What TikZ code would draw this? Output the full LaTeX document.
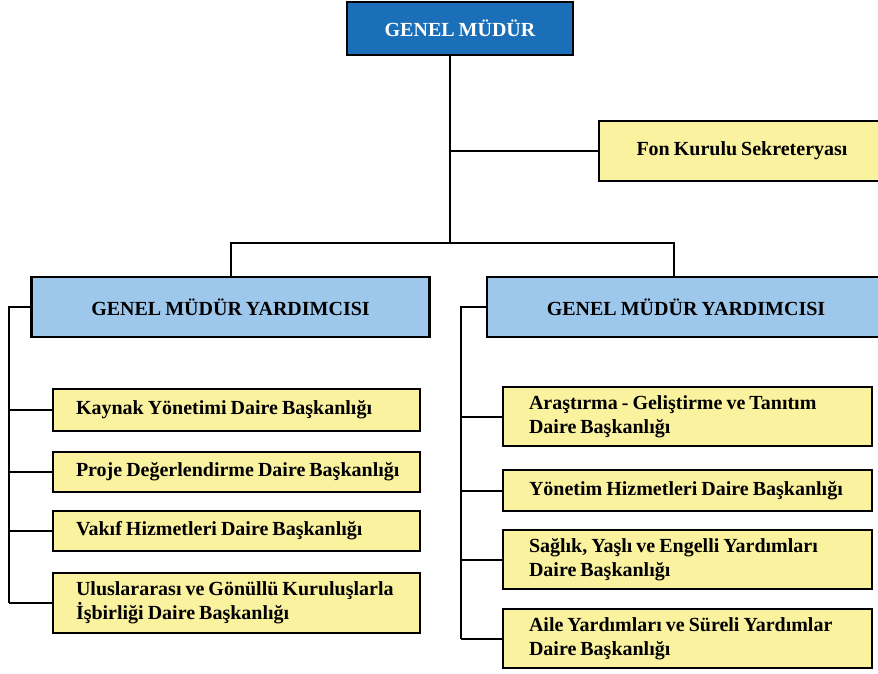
\documentclass[tikz,border=0pt]{standalone}
\usepackage{fontspec}
\setmainfont{Liberation Serif}[WordSpace=0.8]
\usetikzlibrary{positioning}
\definecolor{headblue}{RGB}{27,110,184}
\definecolor{deputyblue}{RGB}{158,200,235}
\definecolor{unityellow}{RGB}{250,242,158}
\begin{document}
\begin{tikzpicture}[x=1pt,y=-1pt,
    box/.style={draw=black, line width=2.5pt, inner sep=0pt, font=\bfseries\fontsize{20}{24}\selectfont},
    headbox/.style={box, fill=headblue, text=white, minimum width=226pt, minimum height=53pt},
    deputybox/.style={box, fill=deputyblue, minimum width=398pt, minimum height=60pt},
    unitbox/.style={box, fill=unityellow, align=left, inner xsep=23pt, text width=321pt,
      execute at begin node={\spaceskip=0pt\xspaceskip=0pt\relax}},
    link/.style={draw=black, line width=2pt}]
  \useasboundingbox (0,0) rectangle (878,673);
  \clip (0,0) rectangle (878,673);
  \node [headbox] (gm) at (460,28.5) {GENEL MÜDÜR};
  \node [box, fill=unityellow, minimum width=286pt, minimum height=60pt] (fks) at (742,151) {Fon Kurulu Sekreteryası};
  \node [deputybox] (gmyL) at (230.5,307) {GENEL MÜDÜR YARDIMCISI};
  \node [deputybox] (gmyR) at (686,307) {GENEL MÜDÜR YARDIMCISI};
  \node [unitbox, minimum height=42pt] (kaynak) at (236.5,410) {\mbox{Kaynak Yönetimi Daire Başkanlığı}};
  \node [unitbox, minimum height=40pt] (proje) at (236.5,472) {\mbox{Proje Değerlendirme Daire Başkanlığı}};
  \node [unitbox, minimum height=40pt] (vakif) at (236.5,531) {\mbox{Vakıf Hizmetleri Daire Başkanlığı}};
  \node [unitbox, minimum height=60pt] (ulus) at (236.5,603) {\mbox{Uluslararası ve Gönüllü Kuruluşlarla}\\\mbox{İşbirliği Daire Başkanlığı}};
  \node [unitbox, inner xsep=26pt, text width=317pt, minimum height=59pt] (arge) at (687.5,416.5) {\mbox{Araştırma - Geliştirme ve Tanıtım}\\\mbox{Daire Başkanlığı}};
  \node [unitbox, inner xsep=26pt, text width=317pt, minimum height=41pt] (yonetim) at (687.5,490.5) {\mbox{Yönetim Hizmetleri Daire Başkanlığı}};
  \node [unitbox, inner xsep=26pt, text width=317pt, minimum height=59pt] (saglik) at (687.5,559.5) {\mbox{Sağlık, Yaşlı ve Engelli Yardımları}\\\mbox{Daire Başkanlığı}};
  \node [unitbox, inner xsep=26pt, text width=317pt, minimum height=59pt] (aile) at (687.5,638.5) {\mbox{Aile Yardımları ve Süreli Yardımlar}\\\mbox{Daire Başkanlığı}};
  \coordinate (trunk) at (450,243);
  \coordinate (barR) at (674,243);
  \coordinate (spineL) at (9,307);
  \coordinate (spineR) at (461,307);
  \draw [link] (gm.south -| trunk) -- (trunk);
  \draw [link] (fks.west -| trunk) -- (fks.west);
  \draw [link] (gmyL.north) -- (gmyL.north |- trunk) -- (barR) -- (barR |- gmyR.north);
  \draw [link] (gmyL.west) -- (spineL) -- (spineL |- ulus.west);
  \draw [link] (gmyR.west) -- (spineR) -- (spineR |- aile.west);
  \foreach \u in {kaynak,proje,vakif,ulus}
    \draw [link] (spineL |- \u.west) -- (\u.west);
  \foreach \u in {arge,yonetim,saglik,aile}
    \draw [link] (spineR |- \u.west) -- (\u.west);
\end{tikzpicture}
\end{document}
